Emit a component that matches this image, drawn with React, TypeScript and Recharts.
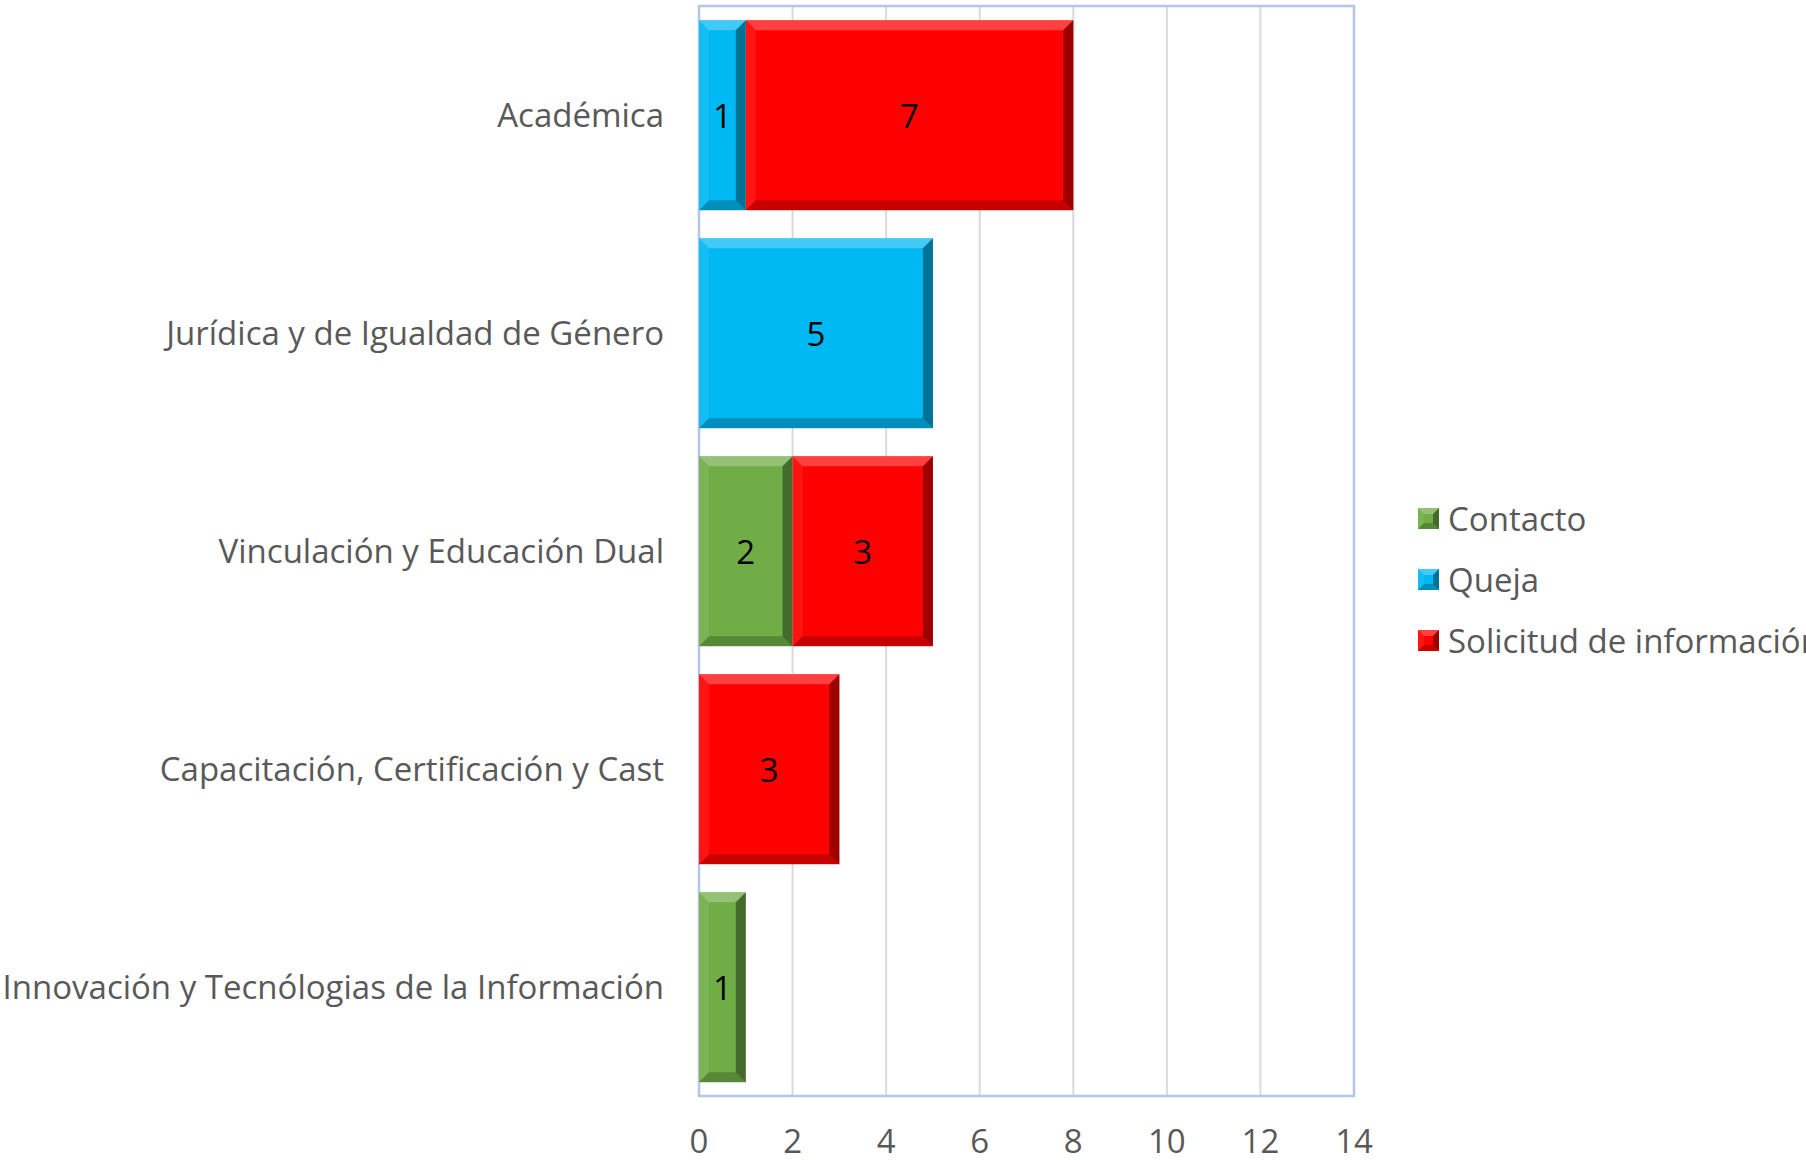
import React from 'react';
import {
  BarChart, Bar, XAxis, YAxis, CartesianGrid, Legend, LabelList, ReferenceArea,
} from 'recharts';

const areas = [
  'Académica',
  'Jurídica y de Igualdad de Género',
  'Vinculación y Educación Dual',
  'Capacitación, Certificación y Cast',
  'Innovación y Tecnólogias de la Información',
];
const contacto = [0, 0, 2, 0, 1];
const queja = [1, 5, 0, 0, 0];
const solicitud = [7, 0, 3, 3, 0];
const xTicks = [0, 2, 4, 6, 8, 10, 12, 14];

const series = [
  { key: 'contacto', name: 'Contacto', color: '#70AD47' },
  { key: 'queja', name: 'Queja', color: '#00B8F2' },
  { key: 'solicitud', name: 'Solicitud de información', color: '#FF0000' },
];

const data = areas.map((name, i) => ({
  name,
  contacto: contacto[i],
  queja: queja[i],
  solicitud: solicitud[i],
}));

const FONT = '"Open Sans", sans-serif';
const GREY = '#595959';
const FS = 33;

// bevelled rectangle, like the Excel 3-D bar format
const bevel = (x: number, y: number, w: number, h: number, fill: string, b: number) => {
  const bb = Math.min(b, w / 2, h / 2);
  return (
    <g>
      <rect x={x} y={y} width={w} height={h} fill={fill} />
      <polygon points={`${x},${y} ${x + w},${y} ${x + w - bb},${y + bb} ${x + bb},${y + bb}`} fill="#fff" fillOpacity={0.25} />
      <polygon points={`${x},${y} ${x + bb},${y + bb} ${x + bb},${y + h - bb} ${x},${y + h}`} fill="#fff" fillOpacity={0.08} />
      <polygon points={`${x + w},${y} ${x + w},${y + h} ${x + w - bb},${y + h - bb} ${x + w - bb},${y + bb}`} fill="#000" fillOpacity={0.38} />
      <polygon points={`${x},${y + h} ${x + w},${y + h} ${x + w - bb},${y + h - bb} ${x + bb},${y + h - bb}`} fill="#000" fillOpacity={0.22} />
    </g>
  );
};

const BevelBar = (props: any) => {
  const { x, y, width, height, fill } = props;
  if (!width || width <= 0 || !height) return <g />;
  return bevel(x, y, width, height, fill, 10);
};

const CenterLabel = (props: any) => {
  const { x, y, width, height, value } = props;
  if (!value) return null;
  return (
    <text
      x={x + width / 2}
      y={y + height / 2}
      textAnchor="middle"
      dominantBaseline="central"
      fontSize={FS}
      fontFamily={FONT}
      fill="#000"
    >
      {value}
    </text>
  );
};

const LegendBox = () => (
  <div style={{ fontFamily: FONT, fontSize: FS, color: GREY }}>
    {series.map((s) => (
      <div key={s.key} style={{ display: 'flex', alignItems: 'center', height: 61, whiteSpace: 'nowrap' }}>
        <svg width={21} height={21} style={{ marginRight: 9 }}>
          {bevel(0, 0, 21, 21, s.color, 6)}
        </svg>
        <span>{s.name}</span>
      </div>
    ))}
  </div>
);

export default function App() {
  return (
    <div style={{ position: 'fixed', left: 0, top: 0, width: 1806, height: 1160, overflow: 'hidden', background: '#fff' }}>
      <BarChart
        width={1806}
        height={1160}
        data={data}
        layout="vertical"
        barCategoryGap="6.5%"
        margin={{ top: 6, right: 452, bottom: 0, left: 0 }}
      >
        <CartesianGrid horizontal={false} stroke="#d9d9d9" strokeWidth={2} />
        <XAxis
          type="number"
          domain={[0, 14]}
          ticks={xTicks}
          height={64}
          axisLine={false}
          tickLine={false}
          tickSize={0}
          tickMargin={34}
          tick={{ fontSize: FS, fill: GREY, fontFamily: FONT }}
        />
        <YAxis
          type="category"
          dataKey="name"
          width={699}
          axisLine={false}
          tickLine={false}
          tickSize={0}
          tickMargin={35}
          tick={{ fontSize: FS, fill: GREY, fontFamily: FONT }}
        />
        {series.map((s) => (
          <Bar
            key={s.key}
            dataKey={s.key}
            name={s.name}
            stackId="a"
            fill={s.color}
            shape={BevelBar}
            isAnimationActive={false}
          >
            <LabelList dataKey={s.key} content={CenterLabel} />
          </Bar>
        ))}
        <ReferenceArea x1={0} x2={14} fill="none" stroke="#b4c7e7" strokeWidth={2.5} ifOverflow="extendDomain" />
        <Legend
          layout="horizontal"
          verticalAlign="middle"
          align="center"
          content={LegendBox}
          wrapperStyle={{ position: 'absolute', left: 1418, top: 488, width: 520, margin: 0 }}
        />
      </BarChart>
    </div>
  );
}
